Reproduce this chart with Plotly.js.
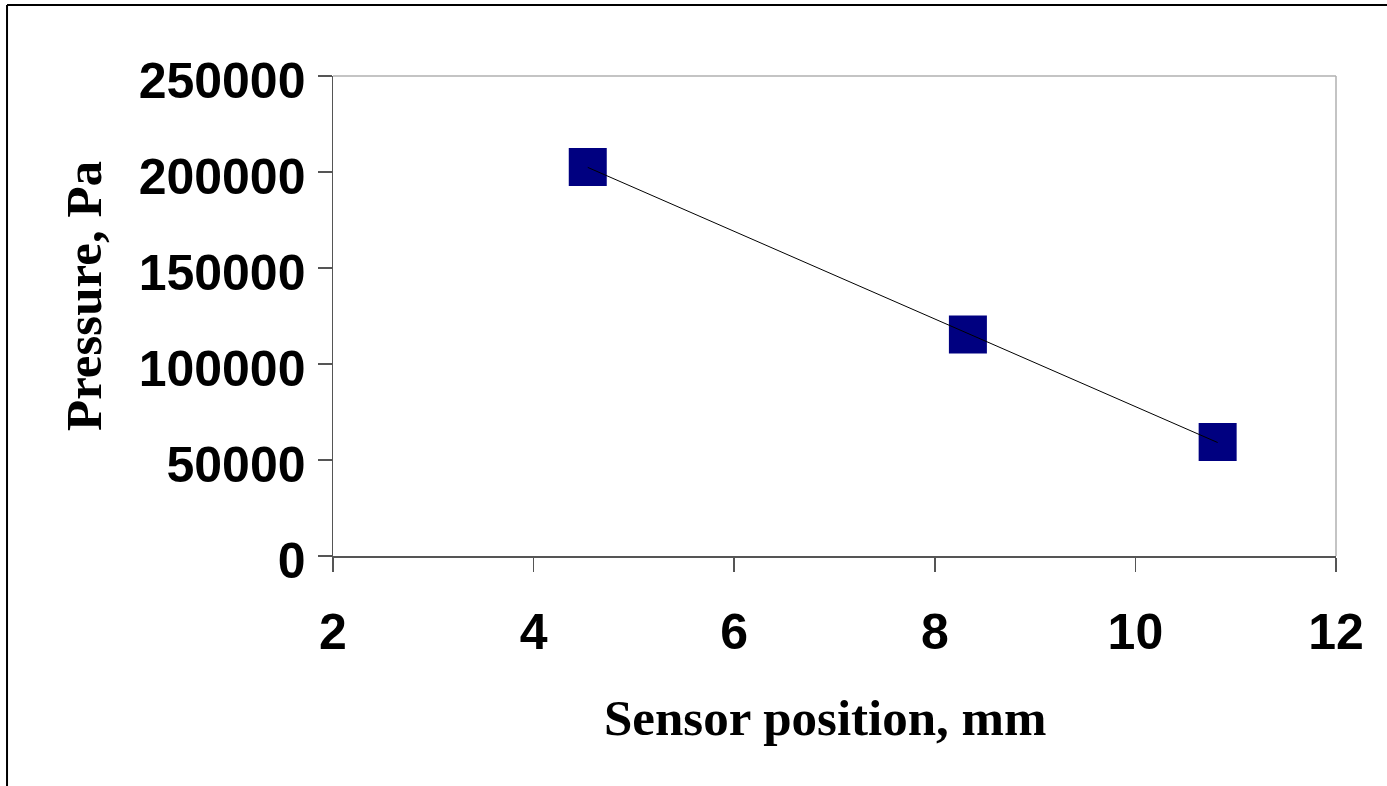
<!DOCTYPE html>
<html>
<head>
<meta charset="utf-8">
<script src="https://cdn.plot.ly/plotly-3.0.1.min.js"></script>
<style>
html,body{margin:0;padding:0;background:#fff;}
#chart{width:1387px;height:786px;}
</style>
</head>
<body>
<div id="chart"></div>
<script>
// Data
const sensorPosition = [4.54, 8.33, 10.82];          // mm
const pressure = [202600, 115400, 59400];            // Pa
const xTickVals = [2, 4, 6, 8, 10, 12];
const yTickVals = [0, 50000, 100000, 150000, 200000, 250000];

// Linear trendline (least squares) computed from the data
const n = sensorPosition.length;
const mx = sensorPosition.reduce((a, b) => a + b, 0) / n;
const my = pressure.reduce((a, b) => a + b, 0) / n;
let sxy = 0, sxx = 0;
for (let i = 0; i < n; i++) {
  sxy += (sensorPosition[i] - mx) * (pressure[i] - my);
  sxx += (sensorPosition[i] - mx) * (sensorPosition[i] - mx);
}
const slope = sxy / sxx;
const intercept = my - slope * mx;
const trendX = [Math.min(...sensorPosition), Math.max(...sensorPosition)];
const trendY = trendX.map(x => intercept + slope * x);

const traces = [
  {
    x: sensorPosition, y: pressure, type: 'scatter', mode: 'markers',
    marker: {symbol: 'square', size: 38, color: '#000080', line: {width: 0}},
    hoverinfo: 'x+y', showlegend: false
  },
  {
    x: trendX, y: trendY, type: 'scatter', mode: 'lines',
    line: {color: '#000000', width: 1}, hoverinfo: 'skip', showlegend: false
  }
];

const tickFont = {family: '"Liberation Sans", Arial, sans-serif', size: 50, color: '#000', weight: 'bold'};
const titleFont = {family: '"Liberation Serif", "Times New Roman", serif', size: 51, color: '#000', weight: 'bold'};

const layout = {
  width: 1387, height: 786,
  margin: {l: 333, r: 51, t: 76, b: 230},
  paper_bgcolor: '#fff', plot_bgcolor: '#fff',
  showlegend: false,
  xaxis: {
    range: [2, 12], tickvals: xTickVals, ticktext: xTickVals.map(String),
    showgrid: false, zeroline: false,
    showline: true, linecolor: '#555', linewidth: 1.5,
    ticks: 'outside', ticklen: 14, tickcolor: '#555', tickwidth: 1.5,
    ticklabelstandoff: 17,
    tickfont: tickFont
  },
  yaxis: {
    range: [0, 250000], tickvals: yTickVals, ticktext: yTickVals.map(String),
    showgrid: false, zeroline: false,
    showline: true, linecolor: '#555', linewidth: 1.5,
    ticks: 'outside', ticklen: 14, tickcolor: '#555', tickwidth: 1.5,
    ticklabelstandoff: 2, ticklabelshift: 4,
    tickfont: tickFont
  },
  annotations: [
    {text: 'Sensor position, mm', xref: 'paper', yref: 'paper',
     x: (825 - 333) / 1003, y: (556 - 718) / 480, xanchor: 'center', yanchor: 'middle',
     showarrow: false, font: titleFont},
    {text: 'Pressure, Pa', xref: 'paper', yref: 'paper', textangle: -90,
     x: (84 - 333) / 1003, y: (556 - 296) / 480, xanchor: 'center', yanchor: 'middle',
     showarrow: false, font: titleFont}
  ],
  shapes: [
    {type: 'line', xref: 'paper', yref: 'paper', x0: 0, x1: 1, y0: 1, y1: 1,
     line: {color: '#b0b0b0', width: 1.5}, layer: 'below'},
    {type: 'line', xref: 'paper', yref: 'paper', x0: 1, x1: 1, y0: 0, y1: 1,
     line: {color: '#b0b0b0', width: 1.5}, layer: 'below'},
    {type: 'line', xref: 'paper', yref: 'paper', x0: -0.325, x1: 1.06, y0: 1.148, y1: 1.148,
     line: {color: '#000', width: 2}},
    {type: 'line', xref: 'paper', yref: 'paper', x0: -0.325, x1: -0.325, y0: 1.148, y1: -0.5,
     line: {color: '#000', width: 2}}
  ]
};

Plotly.newPlot('chart', traces, layout, {displayModeBar: false, staticPlot: true});
</script>
</body>
</html>
